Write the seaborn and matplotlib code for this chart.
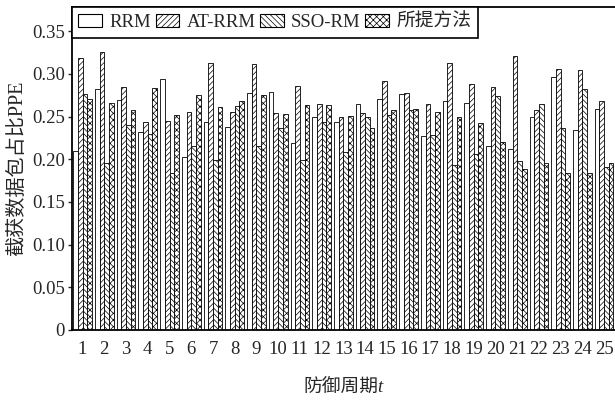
import matplotlib
matplotlib.use("Agg")
import matplotlib.pyplot as plt
from matplotlib.patches import Patch
import seaborn as sns
import pandas as pd

periods = [str(i) for i in range(1, 26)]
methods = ["RRM", "AT-RRM", "SSO-RM", "所提方法"]
rrm = [0.210, 0.282, 0.269, 0.232, 0.294, 0.203, 0.243, 0.238, 0.277, 0.279,
       0.219, 0.249, 0.244, 0.265, 0.271, 0.276, 0.227, 0.268, 0.266, 0.216,
       0.212, 0.250, 0.296, 0.234, 0.259]
at_rrm = [0.319, 0.326, 0.284, 0.243, 0.245, 0.255, 0.313, 0.255, 0.311, 0.254,
          0.286, 0.265, 0.249, 0.254, 0.292, 0.277, 0.265, 0.313, 0.288, 0.285,
          0.321, 0.258, 0.306, 0.305, 0.268]
sso_rm = [0.276, 0.196, 0.240, 0.230, 0.184, 0.216, 0.199, 0.262, 0.215, 0.236,
          0.199, 0.243, 0.209, 0.249, 0.252, 0.258, 0.228, 0.193, 0.206, 0.274,
          0.198, 0.265, 0.237, 0.282, 0.191]
proposed = [0.270, 0.266, 0.258, 0.283, 0.252, 0.275, 0.261, 0.268, 0.275, 0.253,
            0.263, 0.263, 0.251, 0.236, 0.258, 0.259, 0.255, 0.249, 0.242, 0.220,
            0.188, 0.195, 0.184, 0.184, 0.195]
yticks = [0, 0.05, 0.10, 0.15, 0.20, 0.25, 0.30, 0.35]
ytick_labels = ["0", "0.05", "0.10", "0.15", "0.20", "0.25", "0.30", "0.35"]

series = [rrm, at_rrm, sso_rm, proposed]
rows = []
for m, vals in zip(methods, series):
    for p, v in zip(periods, vals):
        rows.append({"period": p, "method": m, "ppe": v})
df = pd.DataFrame(rows)

sns.set_style("ticks")
plt.rcParams["font.family"] = ["Liberation Serif", "Noto Sans CJK SC"]
plt.rcParams["hatch.linewidth"] = 0.5
FS = 13.5

fig = plt.figure(figsize=(6.15, 4.0), dpi=100)
ax = fig.add_axes([0.1166, 0.175, 0.8834, 0.807])

sns.barplot(data=df, x="period", y="ppe", hue="method", order=periods,
            hue_order=methods, palette=["white"] * 4, edgecolor="black",
            linewidth=0.6, width=0.86, errorbar=None, legend=False, ax=ax,
            saturation=1)

hatches = ["", "//////", "\\\\\\\\\\\\", "xxxxx"]
for cont, h in zip(ax.containers, hatches):
    for bar in cont:
        bar.set_hatch(h)

ax.set_xlim(-0.5, 24.5)
ax.set_ylim(0, 0.378)
ax.set_yticks(yticks)
ax.set_yticklabels(ytick_labels, fontsize=FS)
ax.tick_params(axis="x", length=0, pad=8, labelsize=FS)
ax.tick_params(axis="y", direction="out", length=3, width=1, pad=2)
ax.set_xlabel("防御周期t", fontsize=FS, labelpad=15, style="italic")
ax.set_ylabel("截获数据包占比PPE", fontsize=14.5, labelpad=3)

for s in ["left", "bottom", "top"]:
    ax.spines[s].set_linewidth(1.3)
    ax.spines[s].set_color("black")
ax.spines["right"].set_visible(False)

handles = [Patch(facecolor="white", edgecolor="black", hatch=h, linewidth=0.8, label=m)
           for m, h in zip(methods, hatches)]
leg = ax.legend(handles=handles, loc="upper left", bbox_to_anchor=(0, 1),
                borderaxespad=0, ncol=4, fontsize=FS, frameon=True,
                fancybox=False, handlelength=1.25, handleheight=0.65,
                handletextpad=0.4, columnspacing=0.25, borderpad=0.35)
leg.get_frame().set_edgecolor("black")
leg.get_frame().set_linewidth(1.2)
leg.get_frame().set_alpha(1)

fig.savefig("out.png", dpi=100)
